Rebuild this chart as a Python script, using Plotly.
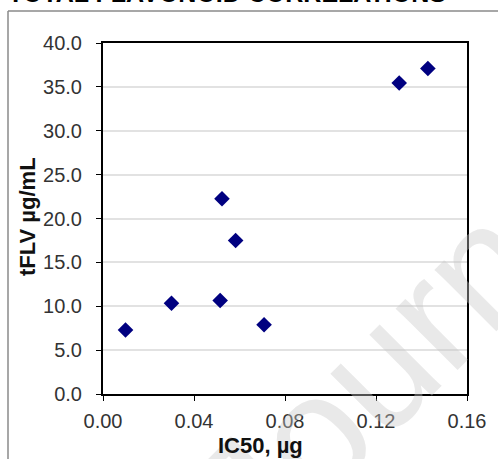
import plotly.graph_objects as go

ic50 = [0.0099, 0.0301, 0.0515, 0.0523, 0.0583, 0.0708, 0.1302, 0.1428]
tflv = [7.3, 10.35, 10.65, 22.25, 17.5, 7.9, 35.45, 37.1]

x_ticks = [0.00, 0.04, 0.08, 0.12, 0.16]
y_ticks = [0, 5, 10, 15, 20, 25, 30, 35, 40]

W, H = 498, 459
L, R, T, B = 103, 31, 43, 65
PW, PH = W - L - R, H - T - B

def px(x):
    return (x - L) / PW

def py(y):
    return (H - B - y) / PH

fig = go.Figure()
fig.add_trace(go.Scatter(
    x=ic50, y=tflv, mode="markers",
    marker=dict(symbol="diamond", size=12, color="#000080"),
    showlegend=False, cliponaxis=False,
))

font = "Liberation Sans, Arial, sans-serif"
fig.update_layout(
    width=W, height=H,
    margin=dict(l=L, r=R, t=T, b=B, autoexpand=False),
    paper_bgcolor="white", plot_bgcolor="white",
    font=dict(family=font, color="#333", size=20),
    xaxis=dict(
        range=[0, 0.16], tickvals=x_ticks,
        ticktext=[f"{v:.2f}" for v in x_ticks],
        showgrid=False, zeroline=False, automargin=False,
        showline=True, linecolor="black", linewidth=2, mirror=True,
        ticks="outside", ticklen=5, tickcolor="black", tickwidth=1,
        ticklabelstandoff=3,
        tickfont=dict(size=20, color="#333"),
    ),
    yaxis=dict(
        range=[0, 40], tickvals=y_ticks,
        ticktext=[f"{v:.1f}" for v in y_ticks],
        showgrid=True, gridcolor="#e2e2e2", gridwidth=1.5, zeroline=False,
        automargin=False,
        showline=True, linecolor="black", linewidth=2, mirror=True,
        ticks="outside", ticklen=5, tickcolor="black", tickwidth=1,
        ticklabelstandoff=10,
        tickfont=dict(size=20, color="#333"),
    ),
    shapes=[
        dict(type="line", xref="paper", yref="paper",
             x0=px(8), x1=px(W + 5), y0=py(11), y1=py(11),
             line=dict(color="#8a8a8a", width=1.5)),
        dict(type="line", xref="paper", yref="paper",
             x0=px(8), x1=px(8), y0=py(11), y1=py(H + 5),
             line=dict(color="#8a8a8a", width=1.5)),
    ],
    annotations=[
        dict(text="Journal", xref="paper", yref="paper",
             x=px(412), y=py(335), xanchor="center", yanchor="middle",
             textangle=-45, showarrow=False,
             font=dict(family=font, size=165, color="rgba(200,200,200,0.4)")),
        dict(text="<b>TOTAL FLAVONOID CORRELATIONS</b>", xref="paper", yref="paper",
             x=px(6), y=py(-7.5), xanchor="left", yanchor="middle",
             showarrow=False, font=dict(family=font, size=25, color="black")),
        dict(text="<b>IC50, µg</b>", xref="paper", yref="paper",
             x=px(260), y=py(445), xanchor="center", yanchor="middle",
             showarrow=False, font=dict(family=font, size=22, color="#111")),
        dict(text="<b>tFLV µg/mL</b>", xref="paper", yref="paper",
             x=px(27), y=py(217), xanchor="center", yanchor="middle",
             textangle=-90, showarrow=False,
             font=dict(family=font, size=22, color="#111")),
    ],
)

fig.write_html(
    "out.html",
    config={"displayModeBar": False},
    post_script="document.body.style.margin='0';document.body.style.overflow='hidden';",
)
